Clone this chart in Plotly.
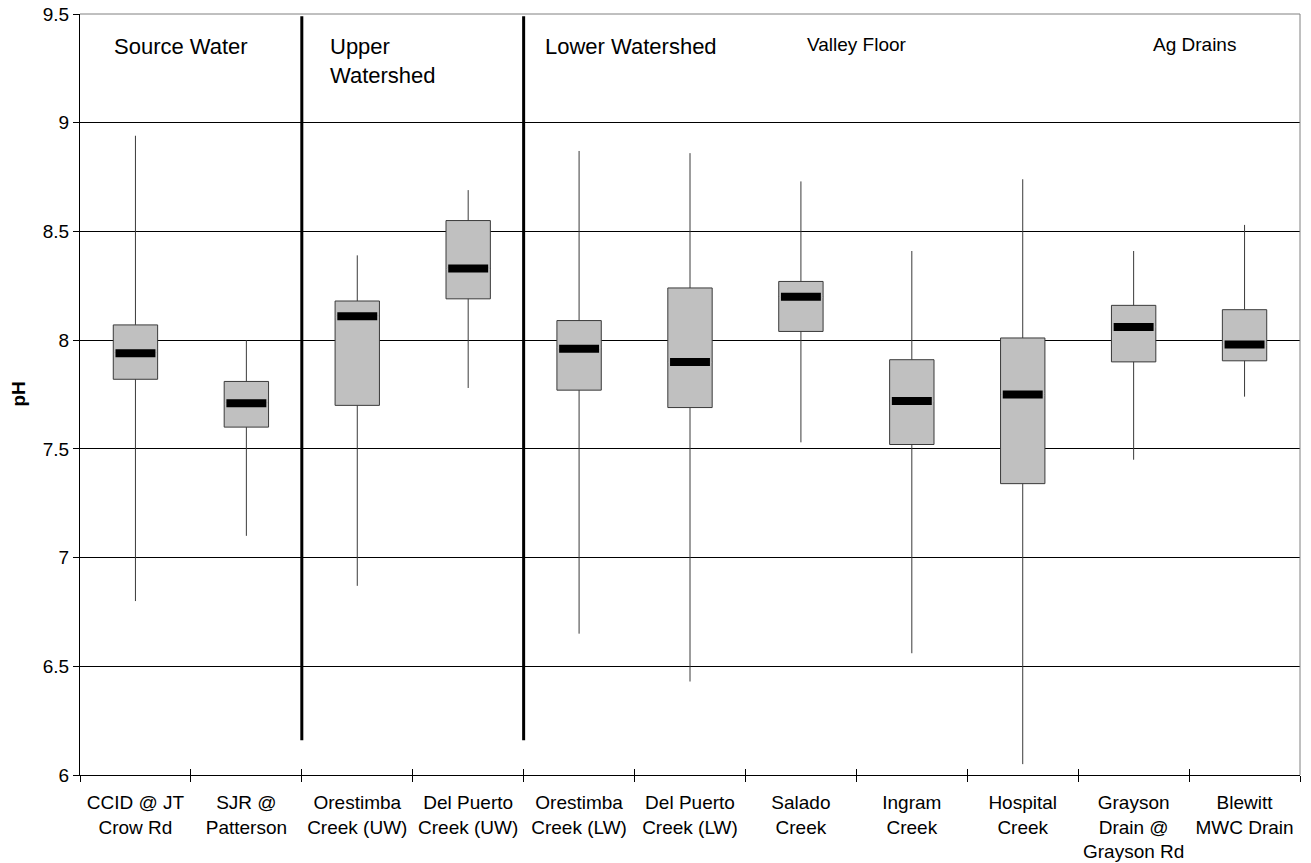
import plotly.graph_objects as go

# Monitoring sites (x categories) and pH summary statistics per site
sites = [
    "CCID @ JT<br>Crow Rd",
    "SJR @<br>Patterson",
    "Orestimba<br>Creek (UW)",
    "Del Puerto<br>Creek (UW)",
    "Orestimba<br>Creek (LW)",
    "Del Puerto<br>Creek (LW)",
    "Salado<br>Creek",
    "Ingram<br>Creek",
    "Hospital<br>Creek",
    "Grayson<br>Drain @<br>Grayson Rd",
    "Blewitt<br>MWC Drain",
]
ph_min = [6.80, 7.10, 6.87, 7.78, 6.65, 6.43, 7.53, 6.56, 6.05, 7.45, 7.74]
ph_q1 = [7.82, 7.60, 7.70, 8.19, 7.77, 7.69, 8.04, 7.52, 7.34, 7.90, 7.905]
ph_median = [7.94, 7.71, 8.11, 8.33, 7.96, 7.90, 8.20, 7.72, 7.75, 8.06, 7.98]
ph_q3 = [8.07, 7.81, 8.18, 8.55, 8.09, 8.24, 8.27, 7.91, 8.01, 8.16, 8.14]
ph_max = [8.94, 8.00, 8.39, 8.69, 8.87, 8.86, 8.73, 8.41, 8.74, 8.41, 8.53]

# Region headings and the site index after which a divider is drawn
group_names = ["Source Water", "Upper<br>Watershed", "Lower Watershed", "Valley Floor", "Ag Drains"]
divider_after = [1, 3]

y_ticks = [6, 6.5, 7, 7.5, 8, 8.5, 9, 9.5]

FONT = "Liberation Sans, Arial, sans-serif"
BOX_FILL = "#C0C0C0"
n = len(sites)
xpos = list(range(n))

fig = go.Figure()

fig.add_trace(go.Box(
    x=xpos,
    q1=ph_q1, median=ph_median, q3=ph_q3,
    lowerfence=ph_min, upperfence=ph_max,
    width=0.4,
    whiskerwidth=0,
    fillcolor=BOX_FILL,
    line=dict(color="#3a3a3a", width=1),
    boxpoints=False,
    hoverinfo="skip",
    showlegend=False,
))


def median_segments(half):
    xs, ys = [], []
    for i, m in zip(xpos, ph_median):
        xs += [i - half, i + half, None]
        ys += [m, m, None]
    return xs, ys


# paint over the box's thin median line, then draw the thick black median bars
sx, sy = median_segments(0.195)
fig.add_trace(go.Scatter(x=sx, y=sy, mode="lines",
                         line=dict(color=BOX_FILL, width=2),
                         hoverinfo="skip", showlegend=False))
mx, my = median_segments(0.18)
fig.add_trace(go.Scatter(x=mx, y=my, mode="lines",
                         line=dict(color="black", width=8),
                         hoverinfo="skip", showlegend=False))

# dummy trace on the overlay axis carrying the inner half of the category ticks
fig.add_trace(go.Scatter(x=[-0.5], y=[6], xaxis="x2", mode="markers",
                         marker=dict(opacity=0), hoverinfo="skip", showlegend=False))

boundaries = [i - 0.5 for i in range(n + 1)]

fig.update_layout(
    width=1311, height=863,
    margin=dict(l=80, r=11, t=14, b=88),
    paper_bgcolor="white", plot_bgcolor="white",
    font=dict(family=FONT, size=19, color="black"),
    xaxis=dict(
        range=[-0.5, n - 0.5], automargin=False,
        tickmode="array", tickvals=xpos, ticktext=sites,
        ticks="", showgrid=False, zeroline=False,
        showline=True, linecolor="black", linewidth=1,
        ticklabelstandoff=10,
        minor=dict(tickmode="array", tickvals=boundaries, ticks="outside",
                   ticklen=6, tickcolor="black", tickwidth=1, showgrid=False),
        tickfont=dict(size=19),
    ),
    xaxis2=dict(
        range=[-0.5, n - 0.5], overlaying="x", anchor="y", side="bottom",
        automargin=False,
        tickmode="array", tickvals=boundaries, ticks="inside", ticklen=6,
        tickcolor="black", showticklabels=False, showgrid=False,
        zeroline=False, showline=False,
    ),
    yaxis=dict(
        range=[6, 9.5], automargin=False,
        tickmode="array", tickvals=y_ticks,
        ticktext=[f"{v:g}" for v in y_ticks],
        ticks="outside", ticklen=6, tickcolor="black",
        showgrid=True, gridcolor="black", gridwidth=1,
        zeroline=False, showline=True, linecolor="black", linewidth=1,
        tickfont=dict(size=19),
    ),
)

# y-axis title
fig.add_annotation(
    text="<b>pH</b>", xref="paper", yref="paper", x=-0.0508, y=0.5,
    textangle=-90, showarrow=False, font=dict(size=19),
    xanchor="center", yanchor="middle",
)

# gray frame on top and right sides
fig.add_shape(type="line", xref="paper", yref="paper", x0=0, x1=1, y0=1, y1=1,
              line=dict(color="#808080", width=1))
fig.add_shape(type="line", xref="paper", yref="paper", x0=1, x1=1, y0=0, y1=1,
              line=dict(color="#808080", width=1))

# thick region dividers
for k in divider_after:
    fig.add_shape(type="line", xref="x", yref="y", x0=k + 0.5, x1=k + 0.5,
                  y0=6.16, y1=9.49, line=dict(color="black", width=3))

# region headings
heading_x = [0.415, 1.736, 3.675, 6.507, 9.55]
heading_anchor = ["center", "left", "left", "center", "center"]
heading_size = [22, 22, 22, 19, 19]
for name, hx, ha, fs in zip(group_names, heading_x, heading_anchor, heading_size):
    fig.add_annotation(
        text=name, x=hx, y=9.415, xref="x", yref="y",
        xanchor=ha, yanchor="top", align="left", showarrow=False,
        font=dict(size=fs),
    )

fig.write_html("out.html")
